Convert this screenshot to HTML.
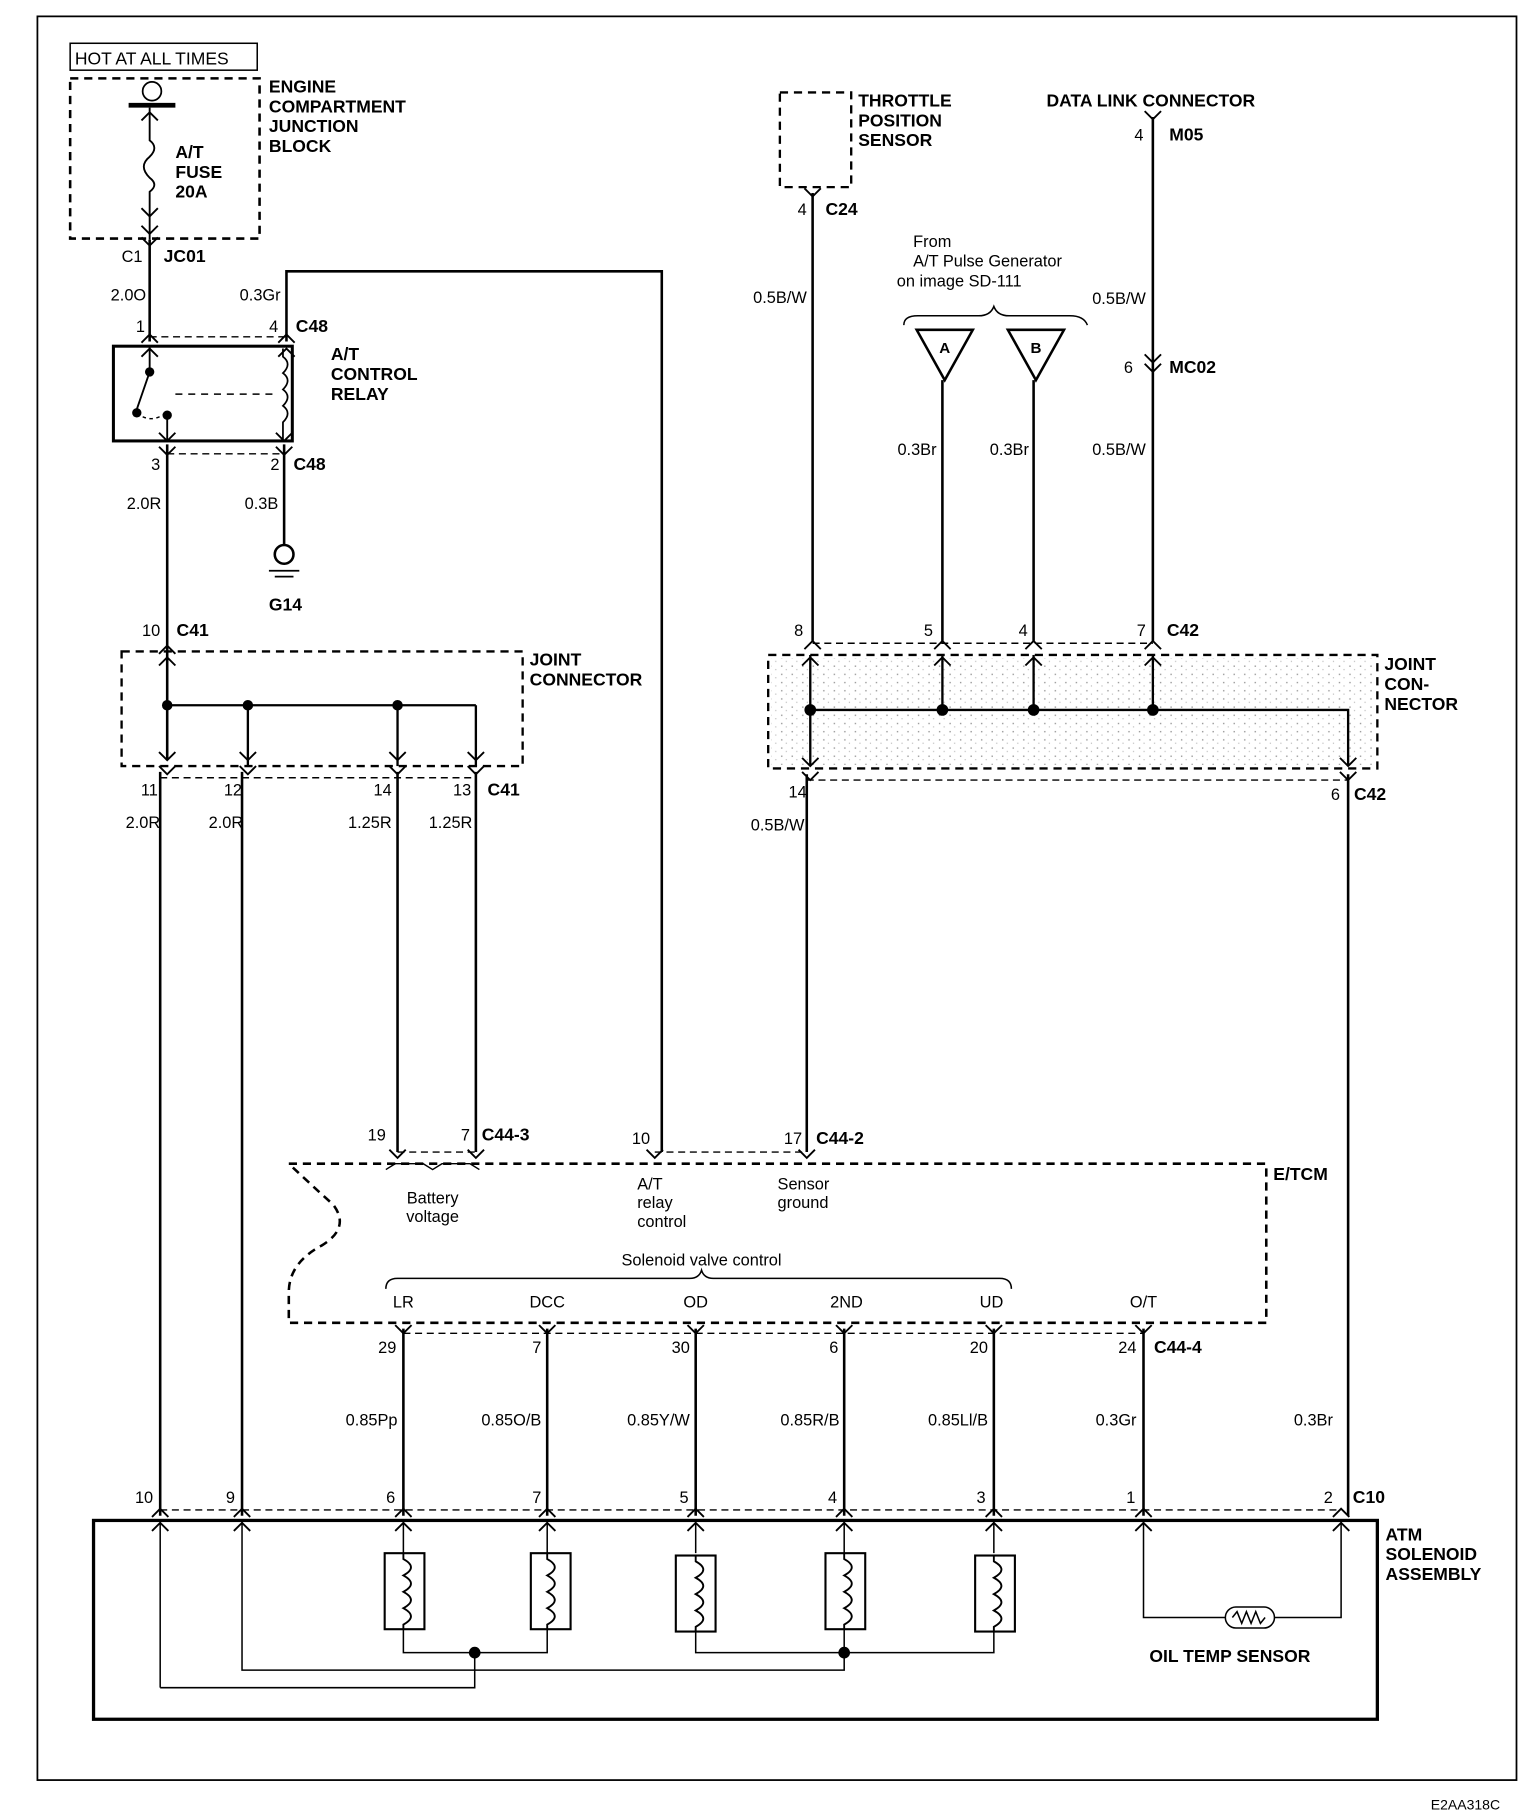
<!DOCTYPE html>
<html><head><meta charset="utf-8"><style>
html,body{margin:0;padding:0;background:#fff}
svg{display:block}
text{font-family:"Liberation Sans",Arial,sans-serif;fill:#000}
.b{font-weight:bold;font-size:15px}
.n{font-size:14px}
.r{text-anchor:end}
.c{text-anchor:middle}
</style></head><body>
<svg width="1520" height="1814" viewBox="0 0 1300 1551" preserveAspectRatio="none" xmlns="http://www.w3.org/2000/svg">
<defs>
<path id="up" d="M-7,7 L0,0 L7,7" fill="none" stroke="#000" stroke-width="1.6"/>
<path id="dn" d="M-7,-7 L0,0 L7,-7" fill="none" stroke="#000" stroke-width="1.6"/>
<pattern id="dots" width="9" height="7" patternUnits="userSpaceOnUse"><rect x="2" y="2" width="1.2" height="1.2" fill="#999"/><rect x="6" y="5" width="1" height="1" fill="#bbb"/></pattern>
</defs>
<g fill="none" stroke="#000">
<rect x="32" y="14" width="1265" height="1508" stroke-width="1.5"/>
<rect x="60" y="37" width="160" height="23" stroke-width="1.3"/>
<rect x="60" y="67" width="162" height="137" stroke-width="2.2" stroke-dasharray="7,5"/>
<circle cx="130" cy="78" r="8" stroke-width="1.5"/>
<line x1="110" y1="90" x2="150" y2="90" stroke-width="4"/>
<path d="M128,92 V120 q8,6 0,14 q-10,8 0,18 q8,6 0,12 V205" stroke-width="1.6"/>
<line x1="128" y1="205" x2="128" y2="292" stroke-width="2.2"/>
<path d="M245,292 V232 H566 V985" stroke-width="2.2"/>
<line x1="128" y1="288" x2="245" y2="288" stroke-width="1.2" stroke-dasharray="6,4"/>
<rect x="97" y="296" width="153" height="81" stroke-width="2.6"/>
<path d="M128,296 V318 L117,350" stroke-width="1.6"/>
<path d="M242,298 V305 q8,6 0,14 q8,6 0,14 q8,6 0,14 q8,6 0,14 V377" stroke-width="1.5"/>
<line x1="150" y1="337" x2="236" y2="337" stroke-width="1.3" stroke-dasharray="6,5"/>
<path d="M117,353 q12,10 25,0" stroke-width="1.2" stroke-dasharray="3,3"/>
<line x1="143" y1="355" x2="143" y2="377" stroke-width="1.6"/>
<line x1="143" y1="388" x2="243" y2="388" stroke-width="1.2" stroke-dasharray="6,4"/>
<line x1="143" y1="380" x2="143" y2="650" stroke-width="2.2"/>
<line x1="243" y1="380" x2="243" y2="466" stroke-width="2.2"/>
<circle cx="243" cy="474" r="8" stroke-width="2.2"/>
<line x1="230" y1="488" x2="256" y2="488" stroke-width="1.5"/>
<line x1="235" y1="493" x2="251" y2="493" stroke-width="1.5"/>
<rect x="104" y="557" width="343" height="98" stroke-width="2" stroke-dasharray="7,5"/>
<line x1="143" y1="603" x2="407" y2="603" stroke-width="2"/>
<line x1="212" y1="603" x2="212" y2="655" stroke-width="2"/>
<line x1="340" y1="603" x2="340" y2="655" stroke-width="2"/>
<line x1="407" y1="603" x2="407" y2="655" stroke-width="2"/>
<line x1="137" y1="665" x2="407" y2="665" stroke-width="1.2" stroke-dasharray="6,4"/>
<line x1="137" y1="660" x2="137" y2="1296" stroke-width="2.2"/>
<line x1="207" y1="660" x2="207" y2="1296" stroke-width="2.2"/>
<line x1="340" y1="660" x2="340" y2="985" stroke-width="2.2"/>
<line x1="407" y1="660" x2="407" y2="985" stroke-width="2.2"/>
<line x1="340" y1="985" x2="407" y2="985" stroke-width="1.2" stroke-dasharray="6,4"/>
<line x1="560" y1="985" x2="690" y2="985" stroke-width="1.2" stroke-dasharray="6,4"/>
<path d="M247,995 H1083 V1131 H247 V1105 Q247,1080 275,1065 Q300,1050 285,1030 Q265,1012 247,995" stroke-width="2.2" stroke-dasharray="7,5"/>
<path d="M330,1000 l8,-5 h24 l8,5 l8,-5 h24 l8,5" stroke-width="1.2"/>
<path d="M330,1102 Q330,1093 340,1093 H590 Q598,1093 600,1086 Q602,1093 610,1093 H855 Q865,1093 865,1102" stroke-width="1.3"/>
<line x1="345" y1="1140" x2="978" y2="1140" stroke-width="1.2" stroke-dasharray="6,4"/>
<line x1="345" y1="1136" x2="345" y2="1296" stroke-width="2.2"/>
<line x1="468" y1="1136" x2="468" y2="1296" stroke-width="2.2"/>
<line x1="595" y1="1136" x2="595" y2="1296" stroke-width="2.2"/>
<line x1="722" y1="1136" x2="722" y2="1296" stroke-width="2.2"/>
<line x1="850" y1="1136" x2="850" y2="1296" stroke-width="2.2"/>
<line x1="978" y1="1136" x2="978" y2="1296" stroke-width="2.2"/>
<line x1="137" y1="1291" x2="1147" y2="1291" stroke-width="1.2" stroke-dasharray="6,4"/>
<rect x="80" y="1300" width="1098" height="170" stroke-width="2.8"/>
<g stroke-width="1.3">
<line x1="137" y1="1300" x2="137" y2="1443"/><path d="M137,1443 H406 V1413"/>
<path d="M207,1300 V1428 H722 V1413"/>
<path d="M345,1300 V1328 M345,1393 V1413 H468 V1393 M468,1300 V1328"/>
<path d="M595,1300 V1328 M595,1393 V1413 H850 V1393 M850,1300 V1328"/>
<path d="M722,1300 V1328 M722,1393 V1413"/>
<path d="M978,1300 V1383 H1048 M1090,1383 H1147 V1300"/>
<rect x="1048" y="1374" width="42" height="18" rx="9"/>
<path d="M1054,1383 l4,-5 l4,10 l4,-10 l4,10 l4,-10 l4,10 l4,-5"/>
</g>
<g stroke-width="1.8">
<rect x="329" y="1328" width="34" height="65"/><rect x="454" y="1328" width="34" height="65"/>
<rect x="578" y="1330" width="34" height="65"/><rect x="706" y="1328" width="34" height="65"/>
<rect x="834" y="1330" width="34" height="65"/>
</g>
<g stroke-width="1.6">
<path d="M345,1328 V1333 q13,7 0,14 q13,7 0,14 q13,7 0,14 q13,7 0,14 V1393"/>
<path d="M468,1328 V1333 q13,7 0,14 q13,7 0,14 q13,7 0,14 q13,7 0,14 V1393"/>
<path d="M595,1330 V1335 q13,7 0,14 q13,7 0,14 q13,7 0,14 q13,7 0,14 V1395"/>
<path d="M722,1328 V1333 q13,7 0,14 q13,7 0,14 q13,7 0,14 q13,7 0,14 V1393"/>
<path d="M850,1330 V1335 q13,7 0,14 q13,7 0,14 q13,7 0,14 q13,7 0,14 V1395"/>
</g>
<rect x="667" y="79" width="61" height="81" stroke-width="2" stroke-dasharray="7,5"/>
<line x1="695" y1="165" x2="695" y2="548" stroke-width="2.2"/>
<path d="M773,278 q0,-8 12,-8 h52 q10,0 13,-8 q3,8 13,8 h52 q12,0 15,8" stroke-width="1.3"/>
<path d="M784,282 H832 L808,325 Z" stroke-width="2.2"/>
<path d="M862,282 H910 L886,325 Z" stroke-width="2.2"/>
<line x1="806" y1="325" x2="806" y2="548" stroke-width="2.2"/>
<line x1="884" y1="325" x2="884" y2="548" stroke-width="2.2"/>
<line x1="986" y1="100" x2="986" y2="548" stroke-width="2.2"/>
<line x1="695" y1="550" x2="986" y2="550" stroke-width="1.2" stroke-dasharray="6,4"/>
<rect x="657" y="560" width="521" height="97" stroke-width="2" stroke-dasharray="7,5"/>
<rect x="660" y="563" width="515" height="91" fill="url(#dots)" stroke="none"/>
<line x1="693" y1="560" x2="693" y2="655" stroke-width="2"/>
<line x1="806" y1="560" x2="806" y2="607" stroke-width="2"/>
<line x1="884" y1="560" x2="884" y2="607" stroke-width="2"/>
<line x1="986" y1="560" x2="986" y2="607" stroke-width="2"/>
<path d="M693,607 H1153 V655" stroke-width="2"/>
<line x1="690" y1="667" x2="1153" y2="667" stroke-width="1.2" stroke-dasharray="6,4"/>
<line x1="690" y1="662" x2="690" y2="985" stroke-width="2.2"/>
<line x1="1153" y1="662" x2="1153" y2="1296" stroke-width="2.2"/>
</g>
<g fill="#000">
<circle cx="143" cy="603" r="4.5"/><circle cx="212" cy="603" r="4.5"/><circle cx="340" cy="603" r="4.5"/>
<circle cx="693" cy="607" r="5"/><circle cx="806" cy="607" r="5"/><circle cx="884" cy="607" r="5"/><circle cx="986" cy="607" r="5"/>
<circle cx="406" cy="1413" r="5"/><circle cx="722" cy="1413" r="5"/>
<circle cx="128" cy="318" r="4"/><circle cx="117" cy="353" r="4"/><circle cx="143" cy="355" r="4"/>
</g>
<use href="#up" x="128" y="96"/><use href="#dn" x="128" y="185"/><use href="#dn" x="128" y="200"/><use href="#dn" x="128" y="210"/>
<use href="#up" x="128" y="286"/><use href="#up" x="128" y="298"/><use href="#up" x="245" y="286"/><use href="#up" x="245" y="298"/>
<use href="#dn" x="143" y="377"/><use href="#dn" x="143" y="389"/><use href="#dn" x="243" y="377"/><use href="#dn" x="243" y="389"/>
<use href="#up" x="143" y="552"/><use href="#up" x="143" y="562"/>
<use href="#dn" x="143" y="650"/><use href="#dn" x="143" y="662"/><use href="#dn" x="212" y="650"/><use href="#dn" x="212" y="662"/>
<use href="#dn" x="340" y="650"/><use href="#dn" x="340" y="662"/><use href="#dn" x="407" y="650"/><use href="#dn" x="407" y="662"/>
<use href="#dn" x="340" y="990"/><use href="#dn" x="407" y="990"/><use href="#dn" x="560" y="990"/><use href="#dn" x="690" y="990"/>
<use href="#dn" x="345" y="1140"/><use href="#dn" x="468" y="1140"/><use href="#dn" x="595" y="1140"/><use href="#dn" x="722" y="1140"/><use href="#dn" x="850" y="1140"/><use href="#dn" x="978" y="1140"/>
<use href="#up" x="137" y="1290"/><use href="#up" x="207" y="1290"/><use href="#up" x="345" y="1290"/><use href="#up" x="468" y="1290"/><use href="#up" x="595" y="1290"/><use href="#up" x="722" y="1290"/><use href="#up" x="850" y="1290"/><use href="#up" x="978" y="1290"/><use href="#up" x="1147" y="1290"/>
<use href="#up" x="137" y="1302"/><use href="#up" x="207" y="1302"/><use href="#up" x="345" y="1302"/><use href="#up" x="468" y="1302"/><use href="#up" x="595" y="1302"/><use href="#up" x="722" y="1302"/><use href="#up" x="850" y="1302"/><use href="#up" x="978" y="1302"/><use href="#up" x="1147" y="1302"/>
<use href="#dn" x="695" y="168"/><use href="#dn" x="986" y="102"/><use href="#dn" x="986" y="310"/><use href="#dn" x="986" y="318"/>
<use href="#up" x="695" y="548"/><use href="#up" x="806" y="548"/><use href="#up" x="884" y="548"/><use href="#up" x="986" y="548"/>
<use href="#up" x="693" y="562"/><use href="#up" x="806" y="562"/><use href="#up" x="884" y="562"/><use href="#up" x="986" y="562"/>
<use href="#dn" x="693" y="655"/><use href="#dn" x="693" y="667"/><use href="#dn" x="1153" y="655"/><use href="#dn" x="1153" y="667"/>
<text x="64" y="55" style="font-size:15px">HOT AT ALL TIMES</text>
<text class="b" x="230" y="79">ENGINE</text><text class="b" x="230" y="96">COMPARTMENT</text><text class="b" x="230" y="113">JUNCTION</text><text class="b" x="230" y="130">BLOCK</text>
<text class="b" x="150" y="135">A/T</text><text class="b" x="150" y="152">FUSE</text><text class="b" x="150" y="169">20A</text>
<text class="n" x="104" y="224">C1</text><text class="b" x="140" y="224">JC01</text>
<text class="n r" x="125" y="257">2.0O</text><text class="n r" x="240" y="257">0.3Gr</text>
<text class="n r" x="124" y="284">1</text><text class="n r" x="238" y="284">4</text><text class="b" x="253" y="284">C48</text>
<text class="b" x="283" y="308">A/T</text><text class="b" x="283" y="325">CONTROL</text><text class="b" x="283" y="342">RELAY</text>
<text class="n r" x="137" y="402">3</text><text class="n r" x="239" y="402">2</text><text class="b" x="251" y="402">C48</text>
<text class="n r" x="138" y="435">2.0R</text><text class="n r" x="238" y="435">0.3B</text>
<text class="b" x="230" y="522">G14</text>
<text class="n r" x="137" y="544">10</text><text class="b" x="151" y="544">C41</text>
<text class="b" x="453" y="569">JOINT</text><text class="b" x="453" y="586">CONNECTOR</text>
<text class="n r" x="135" y="680">11</text><text class="n r" x="207" y="680">12</text><text class="n r" x="335" y="680">14</text><text class="n r" x="403" y="680">13</text><text class="b" x="417" y="680">C41</text>
<text class="n r" x="137" y="708">2.0R</text><text class="n r" x="208" y="708">2.0R</text><text class="n r" x="335" y="708">1.25R</text><text class="n r" x="404" y="708">1.25R</text>
<text class="n r" x="330" y="975">19</text><text class="n r" x="402" y="975">7</text><text class="b" x="412" y="975">C44-3</text>
<text class="n r" x="556" y="978">10</text><text class="n r" x="686" y="978">17</text><text class="b" x="698" y="978">C44-2</text>
<text class="b" x="1089" y="1009">E/TCM</text>
<text class="n c" x="370" y="1029">Battery</text><text class="n c" x="370" y="1045">voltage</text>
<text class="n" x="545" y="1017">A/T</text><text class="n" x="545" y="1033">relay</text><text class="n" x="545" y="1049">control</text>
<text class="n" x="665" y="1017">Sensor</text><text class="n" x="665" y="1033">ground</text>
<text class="n c" x="600" y="1082">Solenoid valve control</text>
<text class="n c" x="345" y="1118">LR</text><text class="n c" x="468" y="1118">DCC</text><text class="n c" x="595" y="1118">OD</text><text class="n c" x="724" y="1118">2ND</text><text class="n c" x="848" y="1118">UD</text><text class="n c" x="978" y="1118">O/T</text>
<text class="n r" x="339" y="1157">29</text><text class="n r" x="463" y="1157">7</text><text class="n r" x="590" y="1157">30</text><text class="n r" x="717" y="1157">6</text><text class="n r" x="845" y="1157">20</text><text class="n r" x="972" y="1157">24</text><text class="b" x="987" y="1157">C44-4</text>
<text class="n r" x="340" y="1219">0.85Pp</text><text class="n r" x="463" y="1219">0.85O/B</text><text class="n r" x="590" y="1219">0.85Y/W</text><text class="n r" x="718" y="1219">0.85R/B</text><text class="n r" x="845" y="1219">0.85Ll/B</text><text class="n r" x="972" y="1219">0.3Gr</text><text class="n r" x="1140" y="1219">0.3Br</text>
<text class="n r" x="131" y="1285">10</text><text class="n r" x="201" y="1285">9</text><text class="n r" x="338" y="1285">6</text><text class="n r" x="463" y="1285">7</text><text class="n r" x="589" y="1285">5</text><text class="n r" x="716" y="1285">4</text><text class="n r" x="843" y="1285">3</text><text class="n r" x="971" y="1285">1</text><text class="n r" x="1140" y="1285">2</text><text class="b" x="1157" y="1285">C10</text>
<text class="b" x="1185" y="1317">ATM</text><text class="b" x="1185" y="1334">SOLENOID</text><text class="b" x="1185" y="1351">ASSEMBLY</text>
<text class="b" x="983" y="1421">OIL TEMP SENSOR</text>
<text class="b" x="734" y="91">THROTTLE</text><text class="b" x="734" y="108">POSITION</text><text class="b" x="734" y="125">SENSOR</text>
<text class="n r" x="690" y="184">4</text><text class="b" x="706" y="184">C24</text>
<text class="n r" x="690" y="259">0.5B/W</text>
<text class="n" x="781" y="211">From</text><text class="n" x="781" y="228">A/T Pulse Generator</text><text class="n" x="767" y="245">on image SD-111</text>
<text class="b c" x="808" y="302" style="font-size:13px">A</text><text class="b c" x="886" y="302" style="font-size:13px">B</text>
<text class="n r" x="801" y="389">0.3Br</text><text class="n r" x="880" y="389">0.3Br</text>
<text class="b" x="895" y="91">DATA LINK CONNECTOR</text>
<text class="n r" x="978" y="120">4</text><text class="b" x="1000" y="120">M05</text>
<text class="n r" x="980" y="260">0.5B/W</text>
<text class="n r" x="969" y="319">6</text><text class="b" x="1000" y="319">MC02</text>
<text class="n r" x="980" y="389">0.5B/W</text>
<text class="n r" x="687" y="544">8</text><text class="n r" x="798" y="544">5</text><text class="n r" x="879" y="544">4</text><text class="n r" x="980" y="544">7</text><text class="b" x="998" y="544">C42</text>
<text class="b" x="1184" y="573">JOINT</text><text class="b" x="1184" y="590">CON-</text><text class="b" x="1184" y="607">NECTOR</text>
<text class="n r" x="690" y="682">14</text><text class="n r" x="1146" y="684">6</text><text class="b" x="1158" y="684">C42</text>
<text class="n r" x="688" y="710">0.5B/W</text>
<text x="1283" y="1547" class="r" style="font-size:12px">E2AA318C</text>
</svg>
</body></html>
